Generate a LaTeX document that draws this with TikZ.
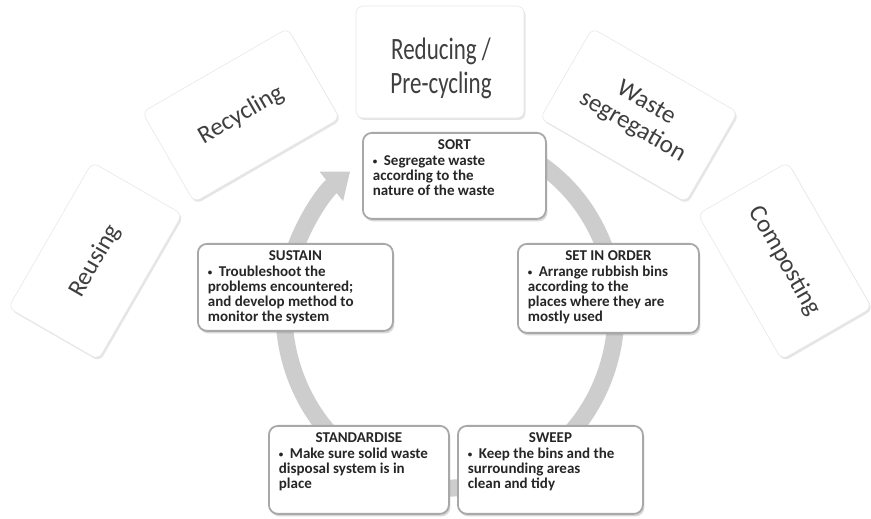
\documentclass[tikz,border=0pt]{standalone}
\usepackage{fontspec}
\usepackage{graphicx}
\setmainfont{Carlito}
\usetikzlibrary{arrows.meta,shadows,calc}
\definecolor{cardtext}{HTML}{3F3F3F}
\definecolor{stepink}{HTML}{262626}
\definecolor{ringgray}{HTML}{CDCDCD}
\definecolor{boxedge}{HTML}{A8A8A8}
\newcommand{\stepcontent}[4]{%
\begin{minipage}[t][#2][t]{#1}\centering #3\par\raggedright
\hangindent=11pt\hangafter=1\noindent\makebox[11pt][l]{\raisebox{1pt}{\fontsize{9}{9}\selectfont •}}#4\end{minipage}}
\tikzset{
  card/.style={rectangle, rounded corners=7pt, fill=white, draw=gray!18, line width=0.6pt,
    minimum width=168pt, minimum height=104pt,
    drop shadow={shadow xshift=1.5pt, shadow yshift=-2pt, opacity=0.2},
    font=\fontsize{25}{27}\selectfont, text=cardtext, align=center},
  cardlabel/.style={font=\fontsize{23}{25}\selectfont, text=cardtext, inner sep=0pt},
  stepbox/.style={rectangle, rounded corners=9pt, fill=white, draw=boxedge, line width=1.8pt,
    drop shadow={shadow xshift=1.5pt, shadow yshift=-2.5pt, opacity=0.3},
    inner xsep=10pt, inner ysep=7pt, anchor=north west,
    font=\fontsize{15}{15.3}\selectfont\bfseries, text=stepink},
  ringline/.style={line width=17pt, draw=ringgray, -{Triangle[width=36pt,length=24pt]}}
}
\begin{document}
\begin{tikzpicture}[x=1pt,y=1pt]
\path[fill=white,use as bounding box] (0,0) rectangle (871,519);
% outer cards on a fan
\node[card, rotate=60] (reusing) at (95.3,258) {Reusing};
\node[card, rotate=30] (recycling) at (241,403.7) {Recycling};
\node[card, minimum height=112pt] (reducing) at (440,457) {};
\node[cardlabel] (reducinglabel) at (441,449) {\scalebox{1}[1.35]{\begin{tabular}{@{}c@{}}Reducing /\\Pre-cycling\end{tabular}}};
\node[card, rotate=-30] (waste) at (639,403.7) {Waste\\segregation};
\node[card, rotate=-60] (composting) at (784.7,258) {Composting};
% cycle ring
\coordinate (ringc) at (450,207);
\draw[ringline] ($(ringc)+(70:166pt and 176pt)$) arc[start angle=70, end angle=-233, x radius=166pt, y radius=176pt];
% step boxes
\node[stepbox] (sort) at (362,387) {\stepcontent{163pt}{72pt}{SORT}{Segregate waste\\according to the\\nature of the waste}};
\node[stepbox] (setinorder) at (517,276) {\stepcontent{161pt}{75pt}{SET IN ORDER}{Arrange rubbish bins\\according to the\\places where they are\\mostly used}};
\node[stepbox] (sweep) at (457,94) {\stepcontent{165pt}{74pt}{SWEEP}{Keep the bins and the\\surrounding areas\\clean and tidy}};
\node[stepbox] (standardise) at (268,94) {\stepcontent{160pt}{74pt}{STANDARDISE}{Make sure solid waste\\disposal system is in\\place}};
\node[stepbox] (sustain) at (197,276) {\stepcontent{175pt}{73pt}{SUSTAIN}{Troubleshoot the\\problems encountered;\\and develop method to\\monitor the system}};
\end{tikzpicture}
\end{document}
